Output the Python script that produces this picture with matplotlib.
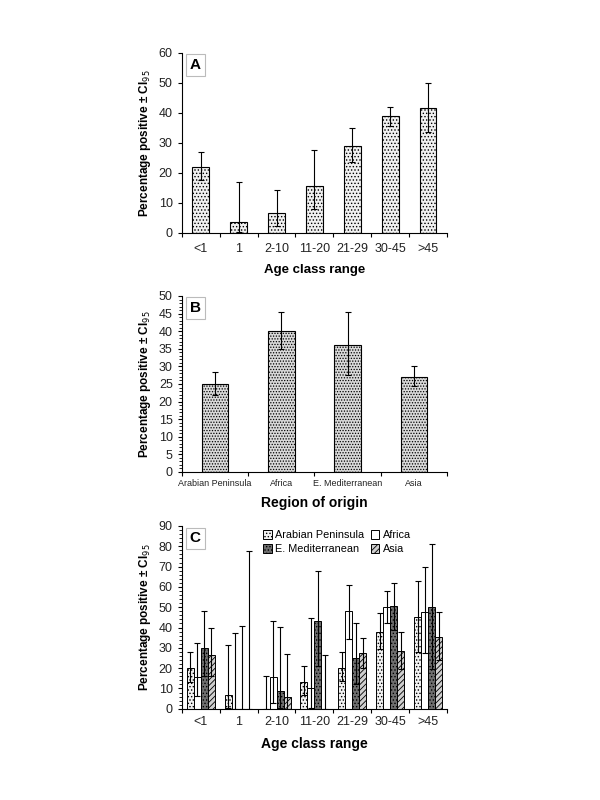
import matplotlib
matplotlib.use("Agg")
import matplotlib.pyplot as plt
import numpy as np
from matplotlib.ticker import MultipleLocator

plt.rcParams['font.family'] = ['Liberation Sans', 'DejaVu Sans']
plt.rcParams['hatch.linewidth'] = 0.6

# ---------------- data ----------------
age_classes = ["<1", "1", "2-10", "11-20", "21-29", "30-45", ">45"]

a_values = [22, 3.6, 6.5, 15.6, 29, 39, 41.5]
a_lower = [17.5, 0.2, 2.2, 7.8, 23.5, 35.5, 33.5]
a_upper = [27, 17, 14.2, 27.5, 35, 42, 49.8]

regions = ["Arabian Peninsula", "Africa", "E. Mediterranean", "Asia"]
b_values = [25, 40, 36, 27]
b_lower = [22, 35, 27.5, 24.3]
b_upper = [28.5, 45.5, 45.5, 30.2]

legend_labels = ["Arabian Peninsula", "Africa", "E. Mediterranean", "Asia"]
c_arabian = [20, 7, 0, 13, 20, 38, 45]
c_arabian_lo = [13, 0.5, 0, 7, 13.5, 29.5, 28]
c_arabian_hi = [28, 31.5, 16, 21, 28, 47, 63]

c_africa = [15.7, 0, 15.5, 10, 48, 50, 47.5]
c_africa_lo = [6.5, 0, 3, 0.5, 34.5, 42, 27.5]
c_africa_hi = [32.5, 37.5, 43, 44.5, 61, 58, 70]

c_emed = [30, 0, 9, 43, 25, 50.5, 50]
c_emed_lo = [16, 0, 0.5, 21, 12, 39, 19.5]
c_emed_hi = [48, 41, 40.5, 68, 42, 62, 81]

c_asia = [26.5, 0, 6, 0, 27.5, 28.5, 35.5]
c_asia_lo = [16, 0, 0, 0, 20, 19.5, 24]
c_asia_hi = [40, 77.5, 27, 26.5, 35, 38, 47.5]

# ---------------- figure ----------------
fig = plt.figure(figsize=(6, 8), dpi=100)

ylab = "Percentage positive \u00b1 CI$_{95}$"
err_kw = dict(ecolor='black', elinewidth=0.8, capsize=2.5, capthick=0.8)


def style_axes(ax):
    for s in ['top', 'right']:
        ax.spines[s].set_visible(False)
    for s in ['left', 'bottom']:
        ax.spines[s].set_linewidth(0.8)
    ax.tick_params(axis='both', direction='out', length=3, width=0.8, labelsize=9,
                   labelcolor='#222222')
    ax.tick_params(axis='y', which='minor', length=2, width=0.6)


def panel_label(ax, text):
    ax.text(0.03, 0.97, text, transform=ax.transAxes, fontsize=11, fontweight='bold',
            va='top', ha='left',
            bbox=dict(boxstyle='square,pad=0.25', fc='white', ec='#bbbbbb', lw=0.8))


# ---- Panel A ----
axA = fig.add_axes([0.303, 0.709, 0.442, 0.225])
x = np.arange(len(age_classes))
yerrA = [np.array(a_values) - np.array(a_lower), np.array(a_upper) - np.array(a_values)]
axA.bar(x, a_values, width=0.44, color='#f0f0f0', edgecolor='black', linewidth=0.8,
        hatch='.....', yerr=yerrA, error_kw=err_kw)
axA.set_xlim(-0.5, len(age_classes) - 0.5)
axA.set_ylim(0, 60)
axA.yaxis.set_major_locator(MultipleLocator(10))
axA.set_xticks(x)
axA.set_xticklabels(age_classes)
axA.set_xticks(np.arange(-0.5, len(age_classes)), minor=True)
style_axes(axA)
axA.tick_params(axis='x', which='major', length=0, pad=7)
axA.tick_params(axis='x', which='minor', length=3, width=0.8)
axA.set_ylabel(ylab, fontsize=8.5, fontweight='bold')
axA.set_xlabel("Age class range", fontsize=9.5, fontweight='bold', labelpad=7)
panel_label(axA, "A")

# ---- Panel B ----
axB = fig.add_axes([0.303, 0.41, 0.442, 0.22])
xb = np.arange(len(regions))
yerrB = [np.array(b_values) - np.array(b_lower), np.array(b_upper) - np.array(b_values)]
axB.bar(xb, b_values, width=0.4, color='#d9d9d9', edgecolor='black', linewidth=0.8,
        hatch='......', yerr=yerrB, error_kw=err_kw)
axB.set_xlim(-0.5, len(regions) - 0.5)
axB.set_ylim(0, 50)
axB.yaxis.set_major_locator(MultipleLocator(5))
axB.yaxis.set_minor_locator(MultipleLocator(1))
axB.set_xticks(xb)
axB.set_xticklabels(["Arabian Peninsula", "Africa", "E. Mediterranean", "Asia"], fontsize=6.5)
axB.set_xticks(np.arange(-0.5, len(regions)), minor=True)
style_axes(axB)
axB.tick_params(axis='x', which='major', length=0, labelsize=6.5, pad=5)
axB.tick_params(axis='x', which='minor', length=3, width=0.8)
axB.set_ylabel(ylab, fontsize=8.5, fontweight='bold')
axB.set_xlabel("Region of origin", fontsize=10, fontweight='bold', labelpad=6)
panel_label(axB, "B")

# ---- Panel C ----
axC = fig.add_axes([0.303, 0.114, 0.442, 0.2285])
series = [
    (c_arabian, c_arabian_lo, c_arabian_hi, dict(color='#f2f2f2', hatch='.....')),
    (c_africa, c_africa_lo, c_africa_hi, dict(color='white', hatch=None)),
    (c_emed, c_emed_lo, c_emed_hi, dict(color='#6e6e6e', hatch='.....')),
    (c_asia, c_asia_lo, c_asia_hi, dict(color='#cfcfcf', hatch='//////')),
]
bw = 0.185
handles = []
for i, (vals, lo, hi, st) in enumerate(series):
    offs = (i - 1.5) * bw
    v = np.array(vals)
    yerr = [v - np.array(lo), np.array(hi) - v]
    b = axC.bar(x + offs, vals, width=bw, color=st['color'], edgecolor='black', linewidth=0.7,
                hatch=st['hatch'], yerr=yerr, error_kw=err_kw, label=legend_labels[i])
    handles.append(b)
axC.set_xlim(-0.5, len(age_classes) - 0.5)
axC.set_ylim(0, 90)
axC.yaxis.set_major_locator(MultipleLocator(10))
axC.yaxis.set_minor_locator(MultipleLocator(2))
axC.set_xticks(x)
axC.set_xticklabels(age_classes)
axC.set_xticks(np.arange(-0.5, len(age_classes)), minor=True)
style_axes(axC)
axC.tick_params(axis='x', which='major', length=0, pad=5)
axC.tick_params(axis='x', which='minor', length=3, width=0.8)
axC.set_ylabel(ylab, fontsize=8.5, fontweight='bold')
axC.set_xlabel("Age class range", fontsize=10, fontweight='bold', labelpad=7)
panel_label(axC, "C")
order = [0, 2, 1, 3]
axC.legend([handles[k] for k in order], [legend_labels[k] for k in order],
           ncol=2, loc='upper left', bbox_to_anchor=(0.29, 1.0), frameon=False,
           fontsize=7.8, handlelength=0.8, handleheight=0.8, handletextpad=0.3,
           columnspacing=0.6, labelspacing=0.35, borderaxespad=0)

fig.savefig("out.png", dpi=100, facecolor='white')
